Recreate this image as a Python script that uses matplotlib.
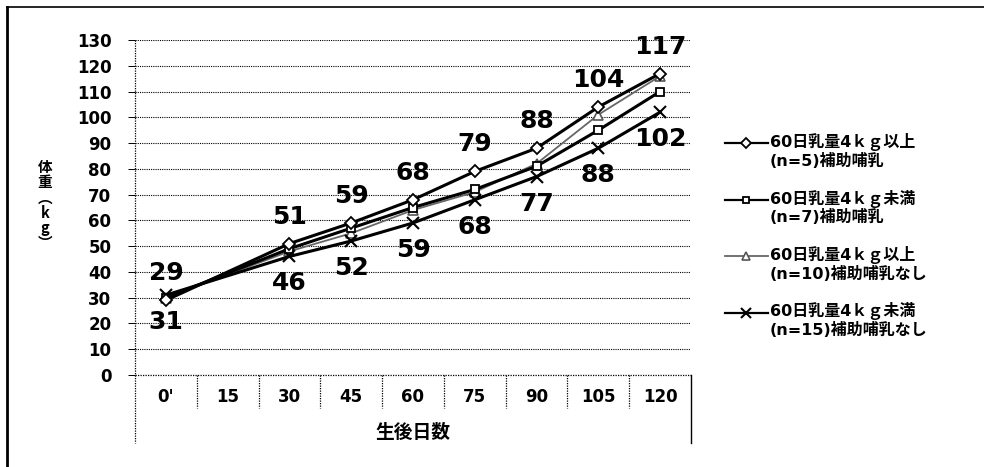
import matplotlib
matplotlib.use("Agg")
import matplotlib.pyplot as plt
from matplotlib.lines import Line2D

plt.rcParams['font.family'] = ['DejaVu Sans', 'Noto Sans CJK JP']

# days after birth (category axis); 15 has no measurement
days = ["0'", "15", "30", "45", "60", "75", "90", "105", "120"]
meas_idx = [0, 2, 3, 4, 5, 6, 7, 8]

s1 = [29, 51, 59, 68, 79, 88, 104, 117]   # >=4kg, supplemented
s2 = [30, 49, 57, 65, 72, 81, 95, 110]    # <4kg, supplemented
s3 = [30, 48, 55, 64, 71, 82, 101, 116]   # >=4kg, not supplemented
s4 = [31, 46, 52, 59, 68, 77, 88, 102]    # <4kg, not supplemented

names = ["60日乳量4ｋｇ以上\n(n=5)補助哺乳",
         "60日乳量4ｋｇ未満\n(n=7)補助哺乳",
         "60日乳量4ｋｇ以上\n(n=10)補助哺乳なし",
         "60日乳量4ｋｇ未満\n(n=15)補助哺乳なし"]

W, H = 984, 467
fig = plt.figure(figsize=(W / 100, H / 100), dpi=100)
ax = fig.add_axes([135 / W, 1 - 375 / H, (691 - 135) / W, (375 - 40) / H])

styles = [
    dict(color='black', lw=2.2, marker='D', ms=6, mfc='white', mec='black', mew=1.3),
    dict(color='black', lw=2.2, marker='s', ms=6, mfc='white', mec='black', mew=1.3),
    dict(color='#666666', lw=1.3, marker='^', ms=7, mfc='white', mec='#555555', mew=1.2),
    dict(color='black', lw=2.2, marker='x', ms=8, mec='black', mew=1.5),
]
for z, (vals, st) in enumerate(zip([s1, s2, s3, s4], styles)):
    ax.plot(meas_idx, vals, zorder=[5, 4, 3, 4][z], **st)

lab_kw = dict(textcoords='offset pixels', ha='center', va='center',
              fontsize=18, fontweight='bold')
for x, v in zip(meas_idx, s1):
    ax.annotate(str(v), (x, v), xytext=(0, 27), **lab_kw)
for x, v in zip(meas_idx, s4):
    ax.annotate(str(v), (x, v), xytext=(0, -27), **lab_kw)

ax.set_xlim(-0.5, len(days) - 0.5)
ax.set_ylim(0, 130)
ax.set_yticks(range(0, 131, 10))
ax.tick_params(axis='y', length=5, width=0.7, pad=12, labelsize=12)
for t in ax.get_yticklabels():
    t.set_fontweight('bold')
ax.set_xticks([])
ax.yaxis.grid(True, linestyle=(0, (1, 1)), color='black', lw=0.8)
ax.set_axisbelow(True)
for s in ['top', 'right', 'bottom', 'left']:
    ax.spines[s].set_visible(False)

# dotted frame of the category axis (extends below the plot)
dot = (0, (1, 1))
xt = ax.get_xaxis_transform()
ax.plot([-0.5, -0.5], [1, -0.203], transform=xt, color='black', lw=0.9, ls=dot, clip_on=False)
ax.plot([8.5, 8.5], [0, -0.203], transform=xt, color='black', lw=1.0, clip_on=False)
ax.plot([-0.5, 8.5], [0, 0], transform=xt, color='black', lw=0.9, ls=dot, clip_on=False)
for b in range(len(days) - 1):
    ax.plot([b + 0.5, b + 0.5], [0, -0.0985], transform=xt,
            color='black', lw=0.9, ls=dot, clip_on=False)
for i, d in enumerate(days):
    ax.text(i, -0.066, d, transform=xt, ha='center', va='center',
            fontsize=12, fontweight='bold')

ax.text(4, -0.17, "生後日数", transform=xt, ha='center', va='center',
        fontsize=13.5, fontweight='bold', family='Noto Sans CJK JP')
fig.text(45 / W, 1 - 205 / H, "体\n重\n︵\nk\ng\n︶", ha='center', va='center',
         fontsize=10.5, fontweight='bold', linespacing=0.95,
         family=['Noto Sans CJK JP', 'DejaVu Sans'])

# legend: handle sits on the first text line of each entry
for k, (name, st) in enumerate(zip(names, styles)):
    y = 1 - (143 + 56.5 * k) / H
    fig.add_artist(Line2D([725 / W, 768 / W], [y, y], color=st['color'],
                          lw=min(st['lw'], 1.6)))
    mk = {k2: v for k2, v in st.items() if k2 not in ('lw', 'color')}
    mk['ms'] -= 1
    fig.add_artist(Line2D([746 / W], [y], ls='none', **mk))
    fig.text(770 / W, y + 10 / H, name, ha='left', va='top', fontsize=11.5,
             fontweight='bold', linespacing=1.15)

# outer chart border
fig.add_artist(Line2D([7 / W, 7 / W], [0, 1 - 7 / H], color='black', lw=2))
fig.add_artist(Line2D([7 / W, 1], [1 - 7 / H, 1 - 7 / H], color='black', lw=1.2))

fig.savefig("out.png", dpi=100)
